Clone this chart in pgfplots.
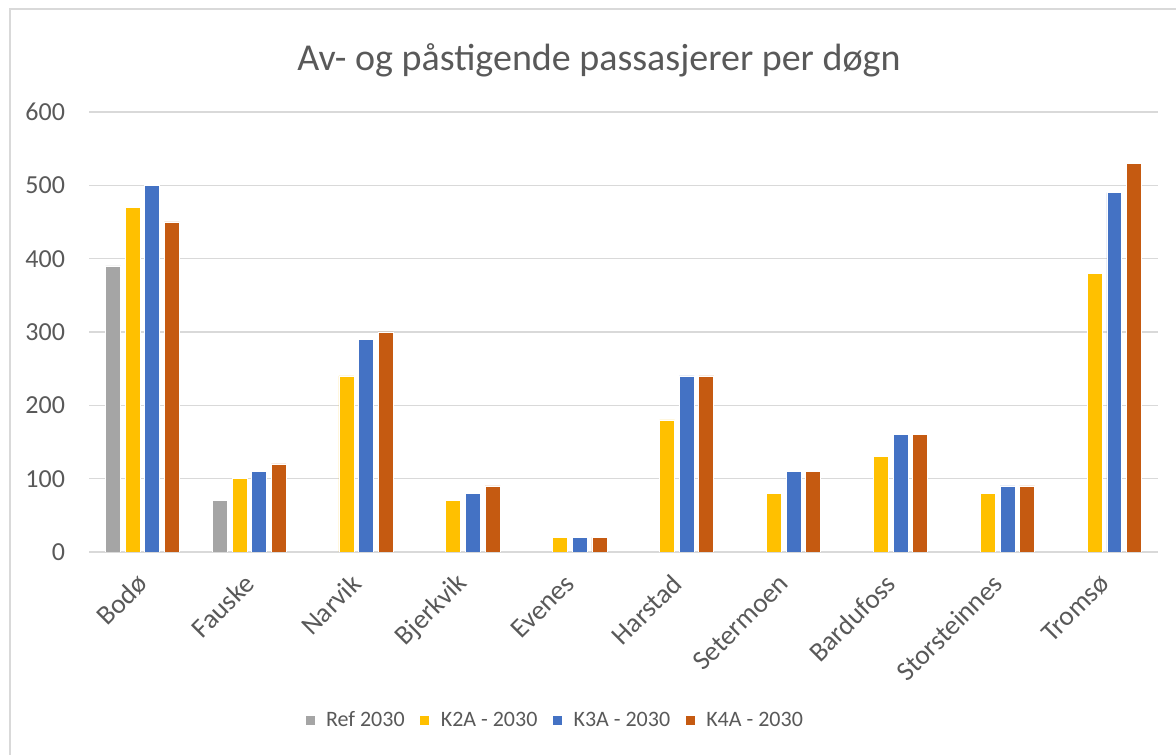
\documentclass[border=0pt]{standalone}
\usepackage{pgfplots}
\pgfplotsset{compat=1.18}
\usepackage{fontspec}
\setmainfont{Carlito}
\definecolor{cgray}{HTML}{A5A5A5}
\definecolor{cyel}{HTML}{FFC000}
\definecolor{cblue}{HTML}{4472C4}
\definecolor{corange}{HTML}{C55A11}
\definecolor{ctext}{HTML}{595959}
\definecolor{cgrid}{HTML}{D9D9D9}
\begin{document}
\begin{tikzpicture}
\useasboundingbox (0,0) rectangle (882pt,566.25pt);
\draw[cgrid, line width=1.2pt] (7.5pt,0) -- (7.5pt,559.5pt) -- (882pt,559.5pt);
\begin{axis}[
  at={(66.75pt,152.25pt)}, anchor=south west,
  scale only axis, width=801.75pt, height=330pt,
  xmin=-0.5, xmax=9.5, ymin=0, ymax=600,
  ybar, bar width=0.14,
  axis line style={draw=none},
  ytick={0,100,...,600},
  ymajorgrids, grid style={cgrid, line width=1.2pt},
  major tick length=0pt,
  xtick={0,...,9},
  xticklabels={Bodø,Fauske,Narvik,Bjerkvik,Evenes,Harstad,Setermoen,Bardufoss,Storsteinnes,Tromsø},
  xticklabel style={rotate=45, anchor=east, font=\fontsize{20.5}{24}\selectfont, text=ctext, yshift=-14.5pt, xshift=-11pt},
  yticklabel style={font=\fontsize{19.5}{23}\selectfont, text=ctext, xshift=-14.5pt},
  /pgf/number format/assume math mode=true,
  title={Av- og påstigende passasjerer per døgn},
  title style={font=\fontsize{28.5}{33}\selectfont, text=ctext, at={(0.477,1.10)}, anchor=center},
  legend style={at={(0.436,-0.382)}, anchor=center, draw=none, legend columns=4,
    font=\fontsize{16.5}{19}\selectfont, text=ctext,
    /tikz/every odd column/.append style={column sep=6pt},
    /tikz/every even column/.append style={column sep=9pt}},
  legend image code/.code={\fill[#1] (-4pt,-3.8pt) rectangle (3.5pt,3.8pt);},
  every axis plot/.append style={draw=white, line width=0.6pt},
]
\addplot[fill=cgray, bar shift=-0.275] coordinates {(0,390) (1,70)};
\addplot[fill=cyel, bar shift=-0.092] coordinates {(0,470) (1,100) (2,240) (3,70) (4,20) (5,180) (6,80) (7,130) (8,80) (9,380)};
\addplot[fill=cblue, bar shift=0.092] coordinates {(0,500) (1,110) (2,290) (3,80) (4,20) (5,240) (6,110) (7,160) (8,90) (9,490)};
\addplot[fill=corange, bar shift=0.275] coordinates {(0,450) (1,120) (2,300) (3,90) (4,20) (5,240) (6,110) (7,160) (8,90) (9,530)};
\legend{Ref 2030, K2A - 2030, K3A - 2030, K4A - 2030}
\end{axis}
\end{tikzpicture}
\end{document}
